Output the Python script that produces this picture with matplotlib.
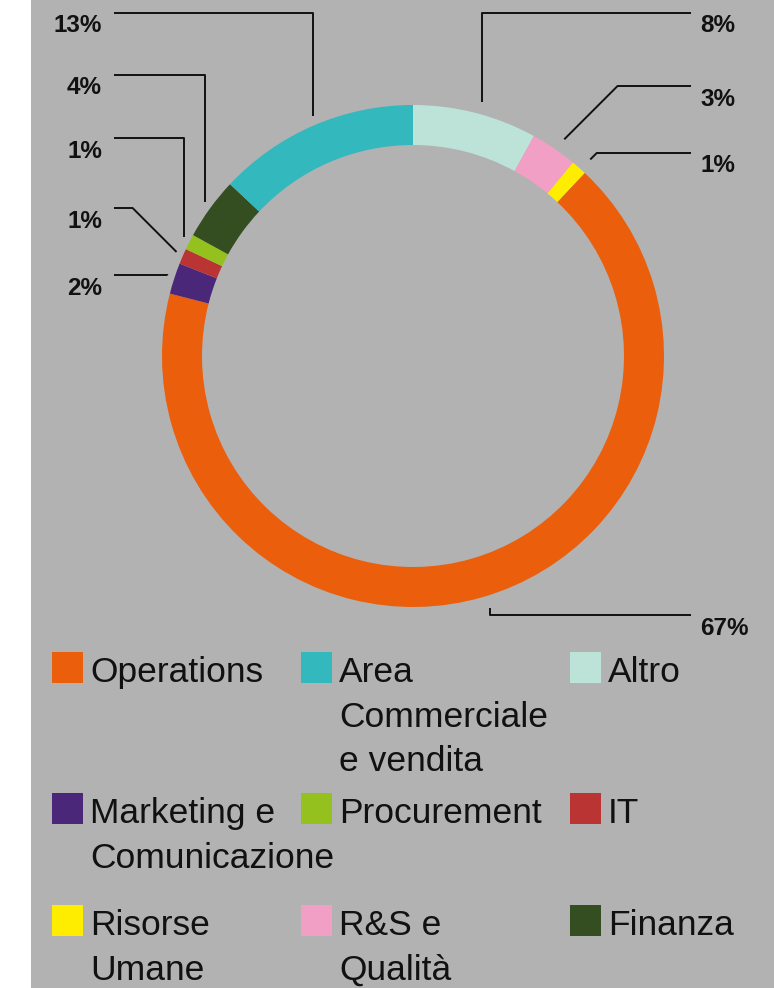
import numpy as np
import matplotlib.pyplot as plt
from matplotlib.patches import Rectangle

# wedges, clockwise from 12 o'clock
labels = ["Altro", "R&S e\nQualità", "Risorse\nUmane", "Operations",
          "Marketing e\nComunicazione", "IT", "Procurement", "Finanza",
          "Area\nCommerciale\ne vendita"]
values = [8, 3, 1, 67, 2, 1, 1, 4, 13]
colors = ["#bde3d9", "#f29fc5", "#ffed00", "#eb5e0c", "#4a2778",
          "#bb3434", "#95c11f", "#344e22", "#33b8bd"]

# callout placement: side, y of the leader's horizontal run, routing
label_side = ["right", "right", "right", "right", "left", "left", "left", "left", "left"]
label_line_y = [13, 86, 153, 615, 275, 208, 138, 75, 13]
label_route = ["elbow", "diag", "diag", "elbow", "diag", "diag", "elbow", "elbow", "elbow"]

# legend, row by row
legend_order = [3, 8, 0, 4, 6, 5, 2, 1, 7]

BG = "#b2b2b2"
W, H = 774, 988
CX, CY, R_OUT, RING = 413, 356, 251, 40

fig = plt.figure(figsize=(W / 100, H / 100), dpi=100)
fig.patch.set_facecolor(BG)

# donut in its own square axes
ax_pie = fig.add_axes([(CX - R_OUT) / W, (H - CY - R_OUT) / H, 2 * R_OUT / W, 2 * R_OUT / H])
ax_pie.pie(values, colors=colors, startangle=90, counterclock=False, radius=1,
           wedgeprops=dict(width=RING / R_OUT, linewidth=0))
ax_pie.set_xlim(-1, 1)
ax_pie.set_ylim(-1, 1)
ax_pie.axis("off")

# overlay in pixel units for callouts and legend
ax = fig.add_axes([0, 0, 1, 1], zorder=2)
ax.set_xlim(0, W)
ax.set_ylim(H, 0)
ax.axis("off")
ax.patch.set_alpha(0)
ax.add_patch(Rectangle((0, 0), 31, H, color="white", lw=0))

label_font = dict(family="Liberation Sans", weight="bold", size=17.5, color="#111111")
legend_font = dict(family="Liberation Sans", size=25.5, color="#111111")

cum = np.cumsum([0] + values[:-1])
r_anchor = R_OUT + 11
for i, v in enumerate(values):
    theta = np.deg2rad(360 * (cum[i] + v / 2) / sum(values))
    x0 = CX + 4 + r_anchor * np.sin(theta)
    y0 = CY - r_anchor * np.cos(theta)
    ly = label_line_y[i]
    right = label_side[i] == "right"
    x_end = 691 if right else 114
    if label_route[i] == "elbow":
        xs, ys = [x0, x0, x_end], [y0, ly, ly]
    else:
        dx = abs(y0 - ly) * (1 if right else -1)
        xs, ys = [x0, x0 + dx, x_end], [y0, ly, ly]
    ax.plot(xs, ys, color="#111111", lw=1.4, solid_capstyle="butt")
    ax.text(700 if right else 102, ly + 19.5, f"{v}%", ha="left" if right else "right",
            va="baseline", **label_font)

# legend: three columns of colour chips with wrapped names
col_x = [52, 301, 570]
row_base = [682, 823, 935]
chip = 31
line_step = 44.5
for k, idx in enumerate(legend_order):
    r, c = divmod(k, 3)
    x, yb = col_x[c], row_base[r]
    ax.add_patch(Rectangle((x, yb - chip + 1), chip, chip, color=colors[idx], lw=0))
    for j, line in enumerate(labels[idx].split("\n")):
        ax.text(x + chip + 7, yb + j * line_step, line, ha="left", va="baseline", **legend_font)

fig.savefig("out.png", dpi=100, facecolor=fig.get_facecolor())
